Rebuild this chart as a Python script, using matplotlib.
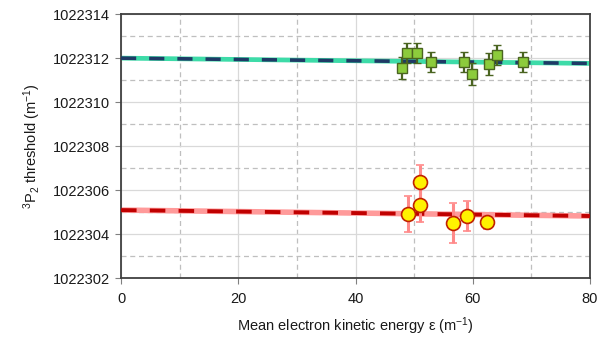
#!/usr/bin/env python3
# Umbral 3P2 frente a energía cinética media del electrón, con rectas de ajuste.
import matplotlib
matplotlib.use("Agg")
import matplotlib.pyplot as plt
from matplotlib.ticker import MultipleLocator, FormatStrFormatter

plt.rcParams["font.family"] = ["Liberation Sans", "DejaVu Sans"]
plt.rcParams["mathtext.fontset"] = "custom"
plt.rcParams["mathtext.rm"] = "Liberation Sans"
plt.rcParams["mathtext.it"] = "Liberation Sans:italic"

# Serie superior (cuadrados verdes)
green_x = [48.0, 48.8, 50.5, 52.8, 58.5, 59.8, 62.7, 64.1, 68.6]
green_y = [1022311.56, 1022312.24, 1022312.24, 1022311.83, 1022311.83,
           1022311.30, 1022311.73, 1022312.14, 1022311.83]
green_err = [0.5, 0.45, 0.45, 0.45, 0.45, 0.5, 0.5, 0.45, 0.45]

# Serie inferior (círculos amarillos)
red_x = [49.0, 51.0, 51.0, 56.6, 59.1, 62.4]
red_y = [1022304.90, 1022305.32, 1022306.35, 1022304.49, 1022304.82, 1022304.53]
red_err = [0.82, 0.76, 0.78, 0.9, 0.68, 0.3]

# Rectas de ajuste (extremos en x=0 y x=80)
fit_x = [0, 80]
green_fit = [1022312.0, 1022311.76]
red_fit = [1022305.09, 1022304.82]

fig = plt.figure(figsize=(6, 3.37), dpi=100)
ax = fig.add_axes([0.2017, 0.175, 0.7816, 0.783])

# Rectas: trazo ancho claro con discontinua oscura encima
ax.plot(fit_x, green_fit, color="#3DDBA8", lw=3.4, solid_capstyle="butt", zorder=2)
ax.plot(fit_x, green_fit, color="#1F3A66", lw=2.6, ls=(0, (4.2, 3.6)), zorder=3)
ax.plot(fit_x, red_fit, color="#FF9A9A", lw=4.0, solid_capstyle="butt", zorder=2)
ax.plot(fit_x, red_fit, color="#C00000", lw=2.8, ls=(0, (4.0, 3.4)), zorder=3)

ax.errorbar(green_x, green_y, yerr=green_err, fmt="s", ms=7.5,
            mfc="#8CCB3C", mec="#4A6420", mew=1.0, ecolor="#4A6420",
            elinewidth=1.6, capsize=3, capthick=2.0, zorder=4)
ax.errorbar(red_x, red_y, yerr=red_err, fmt="o", ms=10,
            mfc="#FFF200", mec="#C02000", mew=1.2, ecolor="#FF8A8A",
            elinewidth=2.2, capsize=3, capthick=2.2, zorder=4)

ax.set_xlim(0, 80)
ax.set_ylim(1022302, 1022314)
ax.xaxis.set_major_locator(MultipleLocator(20))
ax.xaxis.set_minor_locator(MultipleLocator(10))
ax.yaxis.set_major_locator(MultipleLocator(2))
ax.yaxis.set_minor_locator(MultipleLocator(1))
ax.yaxis.set_major_formatter(FormatStrFormatter("%d"))

ax.grid(which="major", color="#D9D9D9", lw=0.9, ls="-", zorder=0)
ax.grid(which="minor", color="#BFBFBF", lw=0.9, ls=(0, (4, 3)), zorder=0)
ax.set_axisbelow(True)

for s in ax.spines.values():
    s.set_color("#404040")
    s.set_linewidth(1.3)
ax.tick_params(which="major", direction="out", length=4, color="#808080",
               labelsize=10.5, labelcolor="#1A1A1A", pad=4)
ax.tick_params(axis="x", pad=6)
ax.tick_params(which="minor", length=0)

ax.set_xlabel(r"Mean electron kinetic energy ε (m$^{-1}$)", fontsize=10.5,
              color="#1A1A1A", labelpad=7)
ax.set_ylabel(r"$^{3}$P$_{2}$ threshold (m$^{-1}$)", fontsize=10.5,
              color="#1A1A1A", labelpad=7)

fig.savefig("out.png", dpi=100)
plt.close(fig)
